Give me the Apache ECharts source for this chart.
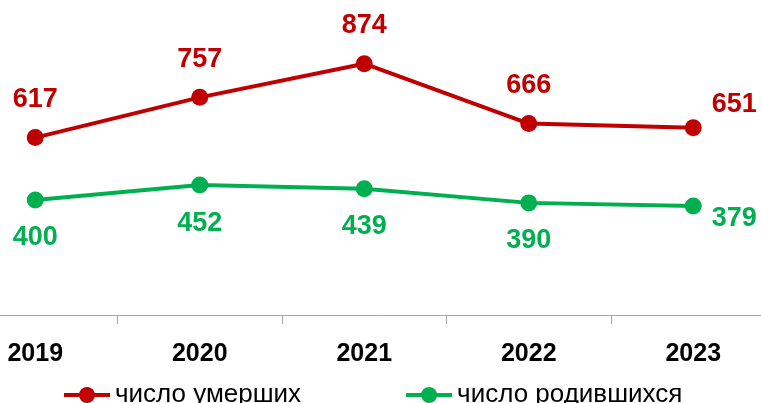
<!DOCTYPE html>
<html>
<head>
<meta charset="utf-8">
<script src="https://cdn.jsdelivr.net/npm/echarts@6/dist/echarts.min.js"></script>
<style>
  html, body { margin: 0; padding: 0; background: #fff; }
  #chart { width: 761px; height: 403px; }
</style>
</head>
<body>
<div id="chart"></div>
<script>
const years = ['2019', '2020', '2021', '2022', '2023']
const deaths = [617, 757, 874, 666, 651]
const births = [400, 452, 439, 390, 379]

const red = '#C00000'
const green = '#00B050'
const fontFamily = '"Liberation Sans", Arial, sans-serif'

const chart = echarts.init(document.getElementById('chart'))

// last point of each line gets its label on the right
function withLastLabel(values, offset) {
  return values.map((v, i) => i === values.length - 1
    ? { value: v, label: { position: 'right', distance: 10, offset: offset } }
    : v)
}

chart.setOption({
  animation: false,
  textStyle: { fontFamily: fontFamily },
  grid: {
    left: -47,
    width: 822.5,
    top: 27.5,
    bottom: 88,
    outerBoundsMode: 'none',
    containLabel: false
  },
  legend: {
    left: 57,
    top: 377,
    itemWidth: 46,
    itemHeight: 20,
    itemGap: 103,
    lineStyle: { width: 4 },
    textStyle: { fontSize: 26, color: '#000', fontFamily: fontFamily },
    data: ['число умерших', 'число родившихся']
  },
  xAxis: {
    type: 'category',
    data: years,
    axisLine: { lineStyle: { color: '#A6A6A6', width: 1 } },
    axisTick: { show: true, length: 9, lineStyle: { color: '#A6A6A6' } },
    axisLabel: {
      margin: 27,
      fontSize: 25,
      fontWeight: 'bold',
      color: '#000'
    }
  },
  yAxis: {
    type: 'value',
    min: 0,
    max: 1000,
    show: false,
    splitLine: { show: false }
  },
  series: [
    {
      name: 'число умерших',
      type: 'line',
      data: withLastLabel(deaths, [0, -23]),
      symbol: 'circle',
      symbolSize: 17,
      color: red,
      lineStyle: { width: 4, color: red },
      label: {
        show: true,
        position: 'top',
        distance: 16,
        fontSize: 27,
        fontWeight: 'bold',
        color: red
      }
    },
    {
      name: 'число родившихся',
      type: 'line',
      data: withLastLabel(births, [0, 13]),
      symbol: 'circle',
      symbolSize: 17,
      color: green,
      lineStyle: { width: 4, color: green },
      label: {
        show: true,
        position: 'bottom',
        distance: 16,
        fontSize: 27,
        fontWeight: 'bold',
        color: green
      }
    }
  ]
})
</script>
</body>
</html>
